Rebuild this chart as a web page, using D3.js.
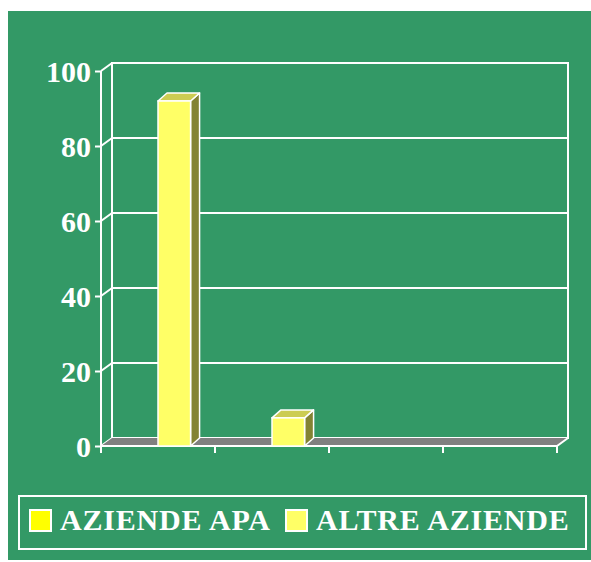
<html>
<head>
  <title>Aziende</title>
  <script src="https://d3js.org/d3.v7.min.js"></script>
</head>
<style type="text/css">
body { margin: 0; background: #fff; }
text { font-family: "Liberation Serif", "Times New Roman", serif; font-weight: bold; fill: #fff; }
</style>
<body>
<script>

// data
var categories = ["c1", "c2", "c3", "c4"];
var seriesNames = ["AZIENDE APA", "ALTRE AZIENDE"];
var apaValues = [0, 0, 0, 0];
var altreValues = [92, 7.5, 0, 0];
var yTicks = [0, 20, 40, 60, 80, 100];

var width = 591,
    height = 562,
    green = "#339966",
    depth = {dx: 11, dy: -8},
    barDepth = {dx: 9, dy: -8},
    colors = ["#FFFF00", "#FFFF66"],
    tops = ["#CCCC33", "#CCCC52"],
    sides = ["#808000", "#838333"];

var svg = d3.select("body").append("svg")
    .attr("width", width)
    .attr("height", height);

svg.append("rect")
   .attr("x", 8).attr("y", 11)
   .attr("width", width - 8).attr("height", 549)
   .attr("fill", green);

var x0 = d3.scaleBand().domain(categories).range([101, 557]);
var x1 = d3.scaleBand().domain(seriesNames).range([0, x0.bandwidth()])
    .paddingInner(0).paddingOuter(0.75);
var y = d3.scaleLinear().domain([0, 100]).range([446, 71]);

var g = svg.append("g");

// back wall
g.append("rect")
 .attr("x", 101 + depth.dx).attr("y", y(100) + depth.dy)
 .attr("width", 557 - 101).attr("height", y(0) - y(100))
 .attr("fill", "none").attr("stroke", "#fff").attr("stroke-width", 2);

g.selectAll(".grid")
 .data(yTicks)
 .enter().append("line")
 .attr("x1", 101 + depth.dx).attr("x2", 557 + depth.dx)
 .attr("y1", function(d) { return y(d) + depth.dy; })
 .attr("y2", function(d) { return y(d) + depth.dy; })
 .attr("stroke", "#fff").attr("stroke-width", 2);

// side wall grid
g.selectAll(".side")
 .data(yTicks)
 .enter().append("line")
 .attr("x1", 101).attr("x2", 101 + depth.dx)
 .attr("y1", function(d) { return y(d); })
 .attr("y2", function(d) { return y(d) + depth.dy; })
 .attr("stroke", "#fff").attr("stroke-width", 2);

// floor
var fy = y(0);
g.append("path")
 .attr("d", "M101," + fy + "L557," + fy + "L" + (557 + depth.dx) + "," + (fy + depth.dy) +
            "L" + (101 + depth.dx) + "," + (fy + depth.dy) + "Z")
 .attr("fill", "#808080").attr("stroke", "none");
g.append("path")
 .attr("d", "M101," + fy + "L557," + fy + "L" + (557 + depth.dx) + "," + (fy + depth.dy))
 .attr("fill", "none").attr("stroke", "#fff").attr("stroke-width", 2);

// y axis
var yAxis = g.append("g")
 .attr("transform", "translate(101,0)")
 .call(d3.axisLeft(y).tickValues(yTicks).tickSize(6).tickPadding(4));
yAxis.select(".domain").attr("stroke", "#fff").attr("stroke-width", 2)
     .attr("d", "M0," + y(100) + "V" + (y(0) + 6));
yAxis.selectAll(".tick line").attr("stroke", "#fff").attr("stroke-width", 2);
yAxis.selectAll(".tick text")
     .attr("fill", "#fff")
     .style("font-size", "30px")
     .style("font-family", "'Liberation Serif', serif")
     .style("font-weight", "bold")
     .attr("dy", "0.36em");

// x axis ticks
g.selectAll(".xtick")
 .data(categories.concat(["end"]))
 .enter().append("line")
 .attr("x1", function(d) { return d === "end" ? 557 : x0(d); })
 .attr("x2", function(d) { return d === "end" ? 557 : x0(d); })
 .attr("y1", fy).attr("y2", fy + 7)
 .attr("stroke", "#fff").attr("stroke-width", 2);

// bars
var rows = [];
categories.forEach(function(c, i) {
  rows.push({cat: c, s: 0, v: apaValues[i]});
  rows.push({cat: c, s: 1, v: altreValues[i]});
});

var bars = g.selectAll(".bar")
  .data(rows.filter(function(d) { return d.v > 0; }))
  .enter().append("g");

bars.each(function(d) {
  var b = d3.select(this);
  var xl = x0(d.cat) + x1(seriesNames[d.s]),
      xr = xl + x1.bandwidth(),
      yt = y(d.v),
      yb = y(0),
      dx = barDepth.dx, dy = barDepth.dy;
  b.append("path")
   .attr("d", "M" + xr + "," + yt + "L" + (xr + dx) + "," + (yt + dy) + "L" + (xr + dx) + "," + (yb + dy) + "L" + xr + "," + yb + "Z")
   .attr("fill", sides[d.s]).attr("stroke", "#fff").attr("stroke-width", 1.5).attr("stroke-linejoin", "round");
  b.append("path")
   .attr("d", "M" + xl + "," + yt + "L" + (xl + dx) + "," + (yt + dy) + "L" + (xr + dx) + "," + (yt + dy) + "L" + xr + "," + yt + "Z")
   .attr("fill", tops[d.s]).attr("stroke", "#fff").attr("stroke-width", 1.5).attr("stroke-linejoin", "round");
  b.append("rect")
   .attr("x", xl).attr("y", yt)
   .attr("width", xr - xl).attr("height", yb - yt)
   .attr("fill", colors[d.s]).attr("stroke", "#fff").attr("stroke-width", 1.5);
});

// legend
var legend = svg.append("g");
legend.append("rect")
  .attr("x", 19).attr("y", 496).attr("width", 567).attr("height", 53)
  .attr("fill", "none").attr("stroke", "#fff").attr("stroke-width", 2);

var legendX = [29, 285];
var items = legend.selectAll(".item")
  .data(seriesNames)
  .enter().append("g")
  .attr("transform", function(d, i) { return "translate(" + legendX[i] + ",509)"; });

items.append("rect")
  .attr("x", 1).attr("y", 1).attr("width", 21).attr("height", 21)
  .attr("fill", function(d, i) { return colors[i]; })
  .attr("stroke", "#fff").attr("stroke-width", 2);

items.append("text")
  .attr("x", 31).attr("y", 21)
  .style("font-size", "30px")
  .style("letter-spacing", "0.8px")
  .text(function(d) { return d; });

</script>
</body>
</html>
